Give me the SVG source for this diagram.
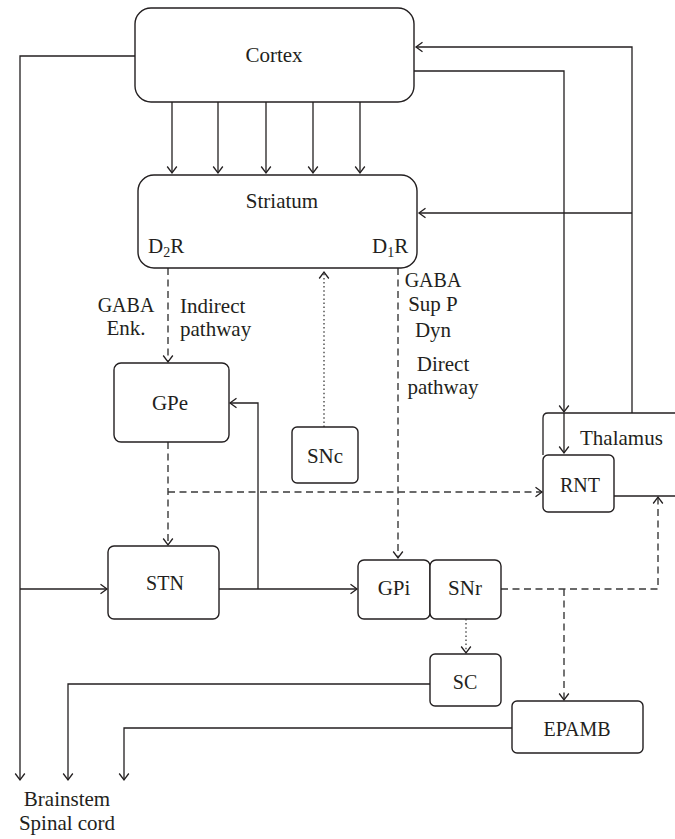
<svg xmlns="http://www.w3.org/2000/svg" width="675" height="839" viewBox="0 0 675 839">
<defs>
<marker id="arr" markerUnits="userSpaceOnUse" markerWidth="14" markerHeight="14" viewBox="-8 -7 10 14" refX="0" refY="0" orient="auto" overflow="visible">
<path d="M-6.5,-4.8 L0,0 L-6.5,4.8" fill="none" stroke="#231f20" stroke-width="1.3"/>
</marker>
<style>
.box{fill:#fff;stroke:#231f20;stroke-width:1.4}
.ln{fill:none;stroke:#231f20;stroke-width:1.3}
.da{fill:none;stroke:#3a3a3a;stroke-width:1.4;stroke-dasharray:7 4.5}
.dt{fill:none;stroke:#3a3a3a;stroke-width:1.3;stroke-dasharray:1.5 2.6}
.a{marker-end:url(#arr)}
.t{font-family:'Liberation Serif','Times New Roman',serif;font-size:21px;fill:#231f20}
.c{font-size:20px}
.m{text-anchor:middle}
</style>
</defs>
<rect width="675" height="839" fill="#fff"/>
<g id="connectors">
<path class="ln a" d="M135,56 H20 V780"/>
<path class="ln a" d="M430,684 H68 V780"/>
<path class="ln a" d="M512,728 H124 V780"/>
<path class="ln a" d="M172,102 V173"/>
<path class="ln a" d="M218,102 V173"/>
<path class="ln a" d="M266,102 V173"/>
<path class="ln a" d="M313,102 V173"/>
<path class="ln a" d="M360,102 V173"/>
<path class="ln a" d="M414,71 H564 V412"/>
<path class="ln a" d="M564,413 V453"/>
<path class="ln a" d="M632,413 V47 H416"/>
<path class="ln a" d="M632,213 H419"/>
<path class="da a" d="M168,268 V362"/>
<path class="da a" d="M168,442 V545"/>
<path class="da a" d="M168,492 H542"/>
<path class="dt a" d="M324,427 V272"/>
<path class="da a" d="M398,268 V558"/>
<path class="ln a" d="M20,589 H107"/>
<path class="ln a" d="M219,589 H357"/>
<path class="ln a" d="M258,589 V403 H230"/>
<path class="da a" d="M501,589 H658 V497"/>
<path class="da a" d="M564,589 V700"/>
<path class="dt a" d="M466,619 V653"/>
</g>
<g id="cortex">
<rect class="box" x="135" y="8" width="279" height="94" rx="16"/>
<text class="t m" x="274" y="62">Cortex</text>
</g>
<g id="striatum">
<rect class="box" x="138" y="175" width="279" height="93" rx="16"/>
<text class="t m" x="282" y="208">Striatum</text>
<text class="t" x="148" y="253">D<tspan font-size="14" dy="4">2</tspan><tspan dy="-4">R</tspan></text>
<text class="t" x="372" y="253">D<tspan font-size="14" dy="4">1</tspan><tspan dy="-4">R</tspan></text>
</g>
<g id="labels-indirect">
<text class="t c m" x="126" y="312">GABA</text>
<text class="t m" x="126" y="335">Enk.</text>
<text class="t" x="180" y="313">Indirect</text>
<text class="t" x="180" y="336">pathway</text>
</g>
<g id="labels-direct">
<text class="t c m" x="433" y="287">GABA</text>
<text class="t m" x="433" y="311">Sup P</text>
<text class="t m" x="433" y="337">Dyn</text>
<text class="t m" x="443" y="371">Direct</text>
<text class="t m" x="443" y="394">pathway</text>
</g>
<g id="gpe">
<rect class="box" x="114" y="363" width="115" height="79" rx="7"/>
<text class="t m" x="170" y="410">GPe</text>
</g>
<g id="snc">
<rect class="box" x="292" y="427" width="66" height="56" rx="5"/>
<text class="t m" x="325" y="463">SNc</text>
</g>
<g id="thalamus">
<path class="ln" d="M543,455 V418 Q543,413 548,413 H675"/>
<path class="ln" d="M614,496 H675"/>
<text class="t" x="580" y="445">Thalamus</text>
</g>
<g id="rnt">
<rect class="box" x="543" y="455" width="71" height="57" rx="5"/>
<text class="t c m" x="580" y="492">RNT</text>
</g>
<g id="stn">
<rect class="box" x="108" y="546" width="111" height="73" rx="6"/>
<text class="t c m" x="165" y="590">STN</text>
</g>
<g id="gpi">
<rect class="box" x="358" y="560" width="72" height="59" rx="6"/>
<text class="t m" x="394" y="595">GPi</text>
</g>
<g id="snr">
<rect class="box" x="430" y="560" width="71" height="59" rx="6"/>
<text class="t m" x="465" y="595">SNr</text>
</g>
<g id="sc">
<rect class="box" x="430" y="654" width="71" height="52" rx="5"/>
<text class="t c m" x="465" y="689">SC</text>
</g>
<g id="epamb">
<rect class="box" x="512" y="701" width="131" height="52" rx="5"/>
<text class="t c m" x="577" y="736">EPAMB</text>
</g>
<g id="brainstem">
<text class="t m" x="67" y="806">Brainstem</text>
<text class="t m" x="67" y="830">Spinal cord</text>
</g>
</svg>
